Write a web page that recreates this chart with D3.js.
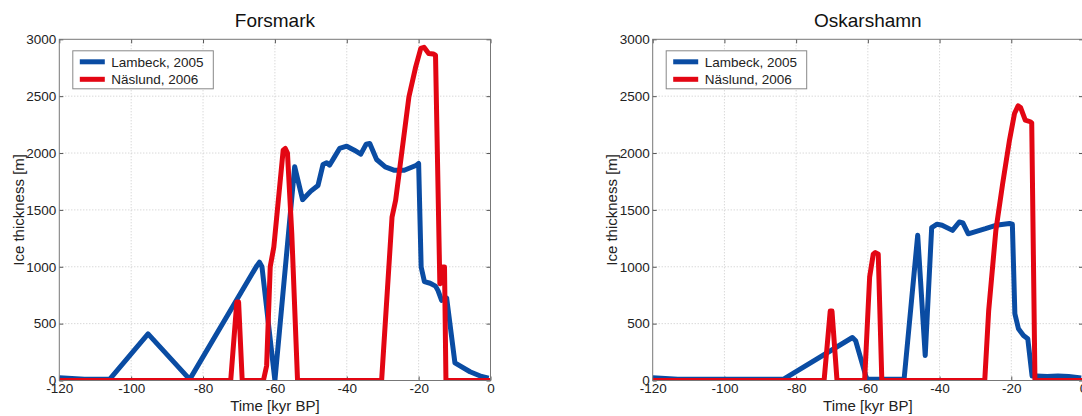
<!DOCTYPE html>
<html lang="en">
<head>
    <meta charset="UTF-8">
    <title>Ice thickness - Forsmark / Oskarshamn</title>
    <script src="https://d3js.org/d3.v7.min.js"></script>
    <style>
        body { margin: 0; background: #fff; }
        svg { font-family: "Liberation Sans", Arial, Helvetica, sans-serif; }
        .grid line { stroke: #c8c8c8; stroke-dasharray: 1,2; }
        .frame { fill: none; stroke: #777; stroke-width: 1; }
        .tick-lbl { font-size: 13.5px; fill: #222; }
    </style>
</head>
<body>
<svg id="chart" width="1082" height="416"></svg>
<script>
    // axis ticks
    const xTicks = [-120, -100, -80, -60, -40, -20, 0];
    const yTicks = [0, 500, 1000, 1500, 2000, 2500, 3000];
    const seriesNames = ['Lambeck, 2005', 'Näslund, 2006'];
    const seriesColors = ['#0a4ca3', '#e30613'];

    // Forsmark - Lambeck 2005
    const forsLamT = [-120, -113, -106, -95.3, -83.7, -65, -64.3, -63.6, -60, -54.5, -52.3, -50, -48, -46.6, -45.6, -44.8, -43.4, -42, -40, -37.9, -36.1, -34.6, -33.6, -31.7, -29.3, -26.9, -24, -20.6, -20, -19.3, -18.4, -16.8, -15.3, -14.6, -13.6, -12.2, -9.9, -5.7, -2.5, -0.5];
    const forsLamH = [25, 10, 10, 410, 10, 1010, 1040, 1000, 0, 1880, 1590, 1665, 1715, 1900, 1915, 1893, 1966, 2040, 2060, 2025, 1990, 2078, 2084, 1943, 1878, 1849, 1849, 1893, 1908, 998, 870, 855, 830, 790, 705, 725, 155, 77, 35, 20];
    // Forsmark - Näslund 2006
    const forsNasT = [-120, -72.3, -70.6, -70.1, -69.1, -63.2, -62.3, -61.3, -60.3, -57.7, -57.1, -56.5, -55.3, -53.7, -30.3, -27.4, -26.4, -22.7, -20.8, -19.4, -18.5, -17.2, -15.9, -15.3, -14.1, -13.6, -13.3, -12.8, -12.4, 0];
    const forsNasH = [0, 0, 690, 690, 0, 0, 130, 1000, 1174, 2025, 2040, 2000, 1290, 0, 0, 1438, 1585, 2495, 2760, 2920, 2930, 2876, 2870, 2860, 851, 860, 998, 998, 0, 0];

    // Oskarshamn - Lambeck 2005
    const oskLamT = [-120, -113, -83.6, -64.3, -63.4, -60.3, -49.9, -46.1, -44, -42.2, -40.7, -39.3, -36.4, -34.5, -33.5, -32, -27.2, -24.3, -20.5, -19.7, -19, -18, -16.6, -15.4, -14.2, -13, -10, -7, -4, -0.5];
    const oskLamH = [25, 12, 10, 378, 350, 10, 10, 1277, 220, 1345, 1374, 1365, 1320, 1394, 1385, 1290, 1335, 1365, 1380, 1374, 587, 455, 396, 367, 40, 40, 35, 40, 35, 22];
    // Oskarshamn - Näslund 2006
    const oskNasT = [-120, -72.2, -70.5, -70.0, -68.6, -60.9, -59.5, -58.5, -57.9, -57.1, -56.1, -27.4, -26.3, -24.3, -22.4, -20.5, -19.1, -18.1, -17.4, -16.1, -14.7, -14.3, -13.4, 0];
    const oskNasH = [0, 0, 610, 610, 0, 0, 910, 1110, 1125, 1110, 0, 0, 616, 1320, 1732, 2113, 2348, 2415, 2400, 2290, 2275, 2265, 0, 0];

    const panels = [
        { id: 'fors', title: 'Forsmark', left: 59.3, width: 431.2, ylabX: 23.5,
          series: [[forsLamT, forsLamH], [forsNasT, forsNasH]] },
        { id: 'osk', title: 'Oskarshamn', left: 652.7, width: 430.3, ylabX: 617,
          series: [[oskLamT, oskLamH], [oskNasT, oskNasH]] }
    ];
    const plotTop = 39.3, plotH = 341.2;

    // plain hyphen instead of unicode minus, like the original
    const fmt = d => String(d);

    const svg = d3.select('#chart');

    panels.forEach(p => {
        const x = d3.scaleLinear().domain([-120, 0]).range([p.left, p.left + p.width]);
        const y = d3.scaleLinear().domain([0, 3000]).range([plotTop + plotH, plotTop]);
        const g = svg.append('g');

        // clip for the thick lines
        svg.append('clipPath').attr('id', 'clip-' + p.id)
            .append('rect')
            .attr('x', p.left).attr('y', plotTop)
            .attr('width', p.width).attr('height', plotH);

        // grid
        const grid = g.append('g').attr('class', 'grid');
        grid.selectAll('.gx').data(xTicks.slice(1, -1)).enter().append('line')
            .attr('x1', d => x(d)).attr('x2', d => x(d))
            .attr('y1', plotTop).attr('y2', plotTop + plotH);
        grid.selectAll('.gy').data(yTicks.slice(1, -1)).enter().append('line')
            .attr('x1', p.left).attr('x2', p.left + p.width)
            .attr('y1', d => y(d)).attr('y2', d => y(d));

        // axes (ticks inward, labels outside)
        const xAxis = g.append('g')
            .attr('transform', `translate(0,${plotTop + plotH})`)
            .call(d3.axisBottom(x).tickValues(xTicks).tickSize(-4).tickPadding(4.5).tickFormat(fmt));
        const xAxisTop = g.append('g')
            .attr('transform', `translate(0,${plotTop})`)
            .call(d3.axisTop(x).tickValues(xTicks).tickSize(-4).tickFormat(''));
        const yAxis = g.append('g')
            .attr('transform', `translate(${p.left},0)`)
            .call(d3.axisLeft(y).tickValues(yTicks).tickSize(-4).tickPadding(3).tickFormat(fmt));
        const yAxisR = g.append('g')
            .attr('transform', `translate(${p.left + p.width},0)`)
            .call(d3.axisRight(y).tickValues(yTicks).tickSize(-4).tickFormat(''));

        [xAxis, xAxisTop, yAxis, yAxisR].forEach(a => {
            a.select('.domain').remove();
            a.selectAll('.tick line').attr('stroke', '#555');
            a.selectAll('.tick text').attr('class', 'tick-lbl').attr('font-family', null).attr('font-size', null);
        });
        xAxis.selectAll('.tick text').attr('dy', '0.62em');

        // data lines
        const line = d3.line().x(d => x(d[0])).y(d => y(d[1]));
        const lines = g.append('g').attr('clip-path', `url(#clip-${p.id})`);
        p.series.forEach((s, i) => {
            const pts = s[0].map((t, k) => [t, s[1][k]]);
            lines.append('path')
                .datum(pts)
                .attr('d', line)
                .attr('fill', 'none')
                .attr('stroke', seriesColors[i])
                .attr('stroke-width', 5)
                .attr('stroke-linejoin', 'round');
        });

        // frame
        g.append('rect').attr('class', 'frame')
            .attr('x', p.left).attr('y', plotTop)
            .attr('width', p.width).attr('height', plotH);

        // legend
        const lg = g.append('g').attr('transform', `translate(${p.left + 13.5},${plotTop + 11.5})`);
        lg.append('rect')
            .attr('width', 140.5).attr('height', 38)
            .attr('fill', '#fff').attr('stroke', '#888');
        seriesNames.forEach((n, i) => {
            const yy = 11 + i * 17.5;
            lg.append('line')
                .attr('x1', 7).attr('x2', 32).attr('y1', yy).attr('y2', yy)
                .attr('stroke', seriesColors[i]).attr('stroke-width', 5);
            lg.append('text')
                .attr('x', 38.5).attr('y', yy).attr('dy', '0.36em')
                .attr('font-size', 13.5).attr('fill', '#222')
                .text(n);
        });

        // titles and labels
        g.append('text')
            .attr('x', p.left + p.width / 2).attr('y', 27)
            .attr('text-anchor', 'middle').attr('font-size', 19).attr('fill', '#111')
            .text(p.title);
        g.append('text')
            .attr('x', p.left + p.width / 2).attr('y', 411)
            .attr('text-anchor', 'middle').attr('font-size', 15).attr('fill', '#222')
            .text('Time [kyr BP]');
        g.append('text')
            .attr('transform', `translate(${p.ylabX},${plotTop + plotH / 2}) rotate(-90)`)
            .attr('text-anchor', 'middle').attr('font-size', 15).attr('fill', '#222')
            .text('Ice thickness [m]');
    });
</script>
</body>
</html>
